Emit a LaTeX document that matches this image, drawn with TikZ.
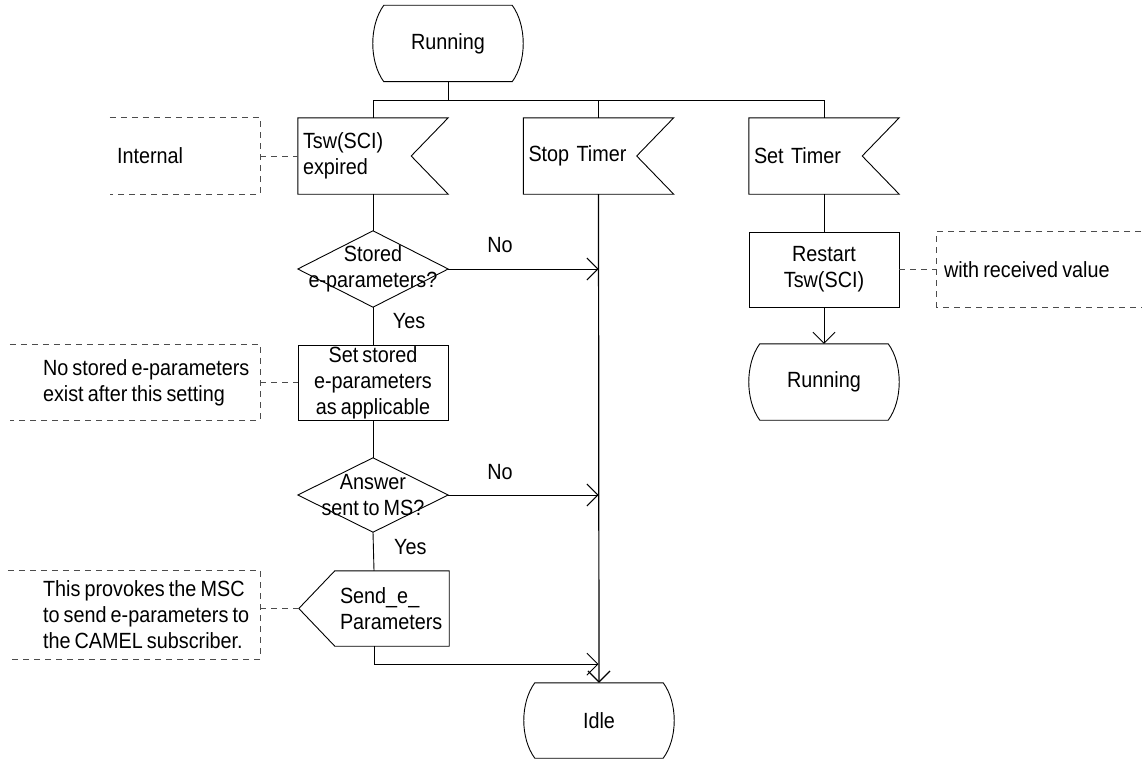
\documentclass[tikz,border=0pt]{standalone}
\usepackage{fontspec}
\setmainfont{Liberation Sans}[FakeStretch=0.9, WordSpace=0.75]
\usetikzlibrary{arrows.meta,calc}
\begin{document}
\begin{tikzpicture}[x=1pt,y=-1pt,
  every node/.style={font=\fontsize{22pt}{26pt}\selectfont, inner sep=0pt},
  frame/.style={minimum width=150pt, minimum height=76pt, align=center},
  tbox/.style={frame, minimum height=75pt, draw, line width=0.9pt},
  flagtext/.style={frame, text width=140pt, align=left},
  ln/.style={line width=0.9pt},
  arr/.style={ln, -{Straight Barb[length=11pt,width=22pt]}},
  dsh/.style={line width=0.9pt, black!70, dash pattern=on 6pt off 5pt},
]
\useasboundingbox (0,0) rectangle (1144,760);

% main nodes
\node[frame] (run1) at (448,43.5) {Running};
\node[flagtext] (tsw) at (373,156) {Tsw(SCI)\\expired};
\node[flagtext] (stop) at (598.5,156) {Stop Timer};
\node[flagtext] (set) at (824,156) {Set Timer};
\node[frame] (d1) at (373,269) {Stored\\e-parameters?};
\node[tbox] (ss) at (373,382.5) {Set stored\\e-parameters\\as applicable};
\node[frame, minimum height=74pt] (d2) at (373,495) {Answer\\sent to MS?};
\node[frame, minimum height=75pt] (send) at (374,608.5) {};
\node[anchor=west, align=left] (sendtxt) at ([xshift=41pt]send.west) {Send\_e\_\\Parameters};
\node[frame, minimum height=75pt] (idle) at (599,720.5) {Idle};
\node[tbox] (rst) at (824,269.5) {Restart\\Tsw(SCI)};
\node[frame] (run2) at (824,382) {Running};

% comment frames and texts
\node[minimum width=150pt, minimum height=76pt] (c1) at (185,156) {};
\node[anchor=west] (c1t) at ([xshift=7pt]c1.west) {Internal};
\node[minimum width=250pt, minimum height=75pt] (c2) at (135,382.5) {};
\node[anchor=west, align=left] (c2t) at ([xshift=33pt]c2.west) {No stored e-parameters\\exist after this setting};
\node[minimum width=252pt, minimum height=88pt] (c3) at (134,615) {};
\node[anchor=west, align=left] (c3t) at ([xshift=35pt]c3.west) {This provokes the MSC\\to send e-parameters to\\the CAMEL subscriber.};
\node[minimum width=204pt, minimum height=75pt] (c4) at (1039,269.5) {};
\node[anchor=west] (c4t) at ([xshift=7pt]c4.west) {with received value};

% state shapes
\foreach \n in {run1,run2,idle}
  \draw[ln] ([xshift=11pt]\n.north west) -- ([xshift=-11pt]\n.north east)
    .. controls ([xshift=3.7pt,yshift=-20pt]\n.north east) and ([xshift=3.7pt,yshift=20pt]\n.south east) .. ([xshift=-11pt]\n.south east)
    -- ([xshift=11pt]\n.south west)
    .. controls ([xshift=-3.7pt,yshift=20pt]\n.south west) and ([xshift=-3.7pt,yshift=-20pt]\n.north west) .. cycle;
% input flags
\foreach \n in {tsw,stop,set}
  \draw[ln] (\n.north west) -- (\n.north east) -- ([xshift=-37pt]\n.east) -- (\n.south east) -- (\n.south west) -- cycle;
% decisions
\foreach \n in {d1,d2}
  \draw[ln] (\n.north) -- (\n.east) -- (\n.south) -- (\n.west) -- cycle;
% output
\draw[ln] ([xshift=36pt]send.north west) -- (send.north east) -- (send.south east) -- ([xshift=36pt]send.south west) -- (send.west) -- cycle;
% comment brackets
\foreach \n in {c1,c2,c3}
  \draw[dsh] (\n.north west) -- (\n.north east) -- (\n.south east) -- (\n.south west);
\draw[dsh] (c4.north east) -- (c4.north west) -- (c4.south west) -- (c4.south east);

% dashed comment connectors
\draw[dsh] (c1.east) -- (tsw.west);
\draw[dsh] (c2.east) -- (ss.west);
\draw[dsh] (send.west -| c3.east) -- (send.west);
\draw[dsh] (rst.east) -- (c4.west);

% flow connectors
\coordinate (bus) at (448,100);
\draw[ln] (run1.south) -- (bus);
\draw[ln] (tsw.north) -- (tsw.north |- bus) -- (set.north |- bus) -- (set.north);
\draw[ln] (stop.north) -- (stop.north |- bus);
\draw[ln] (tsw.south) -- (d1.north);
\draw[arr] (d1.east) -- node[pos=0.345, yshift=24pt]{No} (d1.east -| stop.south);
\draw[ln] (d1.south) -- node[pos=0.37, xshift=36pt]{Yes} (ss.north);
\draw[ln] (ss.south) -- (d2.north);
\draw[arr] (d2.east) -- node[pos=0.345, yshift=23pt]{No} (d2.east -| stop.south);
\draw[ln] (d2.south) -- node[pos=0.38, xshift=37pt]{Yes} (send.north);
\coordinate (join) at ($(stop.south |- send.south)+(0,18)$);
\draw[arr] (send.south) |- (join);
\draw[arr, line width=1.2pt] (stop.south) -- (idle.north);
\draw[ln] (set.south) -- (rst.north);
\draw[arr] (rst.south) -- (run2.north);
\end{tikzpicture}
\end{document}
